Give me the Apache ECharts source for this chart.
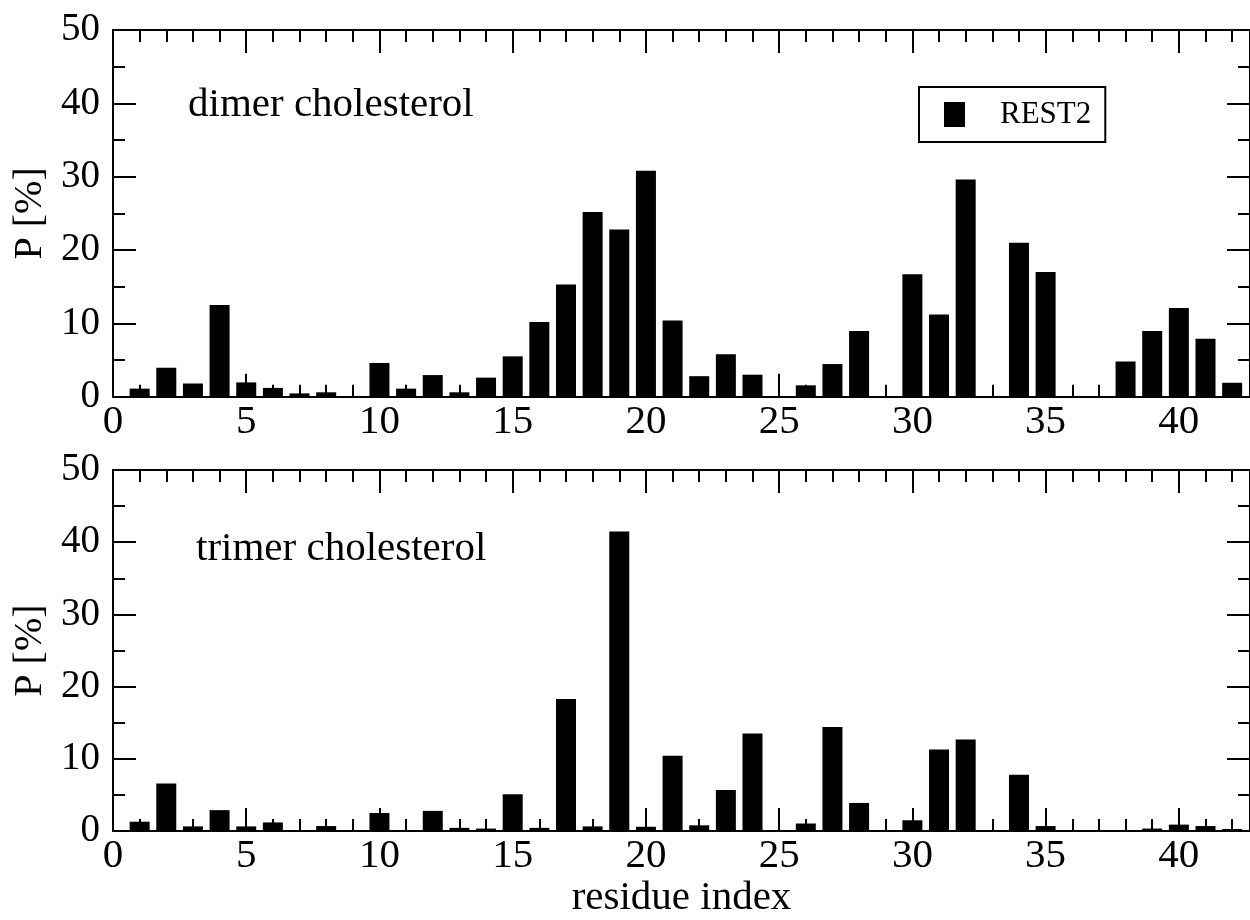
<!DOCTYPE html>
<html>
<head>
    <meta charset="UTF-8">
    <title>Residue contact probability</title>
    <script src="https://cdn.jsdelivr.net/npm/echarts@6/dist/echarts.min.js"></script>
    <style>
        html, body { margin: 0; padding: 0; background: #fff; }
        #chart { width: 1250px; height: 920px; }
    </style>
</head>
<body>
    <div id="chart"></div>
    <script>
        // residue index 1..42
        var residues = [1,2,3,4,5,6,7,8,9,10,11,12,13,14,15,16,17,18,19,20,21,
                        22,23,24,25,26,27,28,29,30,31,32,33,34,35,36,37,38,39,40,41,42];
        // P [%] dimer cholesterol
        var dimer = [1.1,3.95,1.8,12.5,1.95,1.2,0.45,0.6,0,4.6,
                     1.1,2.95,0.6,2.6,5.5,10.2,15.3,25.2,22.8,30.8,
                     10.4,2.8,5.8,3.0,0,1.55,4.45,8.95,0,16.7,
                     11.2,29.6,0,21.0,17.0,0,0,4.8,8.95,12.1,
                     7.9,1.9];
        // P [%] trimer cholesterol
        var trimer = [1.3,6.6,0.65,2.9,0.65,1.2,0,0.7,0,2.5,
                      0,2.8,0.45,0.35,5.1,0.45,18.3,0.65,41.5,0.6,
                      10.45,0.8,5.7,13.5,0,1.05,14.4,3.9,0,1.5,
                      11.3,12.7,0,7.8,0.7,0,0,0,0.35,0.9,
                      0.7,0.3];
        var panelLabels = ['dimer cholesterol', 'trimer cholesterol'];
        var yTicks = [0, 10, 20, 30, 40, 50];
        var xTickStep = 5;

        var F = 'Liberation Serif';
        var XMAX = 42.67;
        var line = { show: true, onZero: false, lineStyle: { color: '#000', width: 2 } };
        var noLine = { show: false, onZero: false };

        function pairs(vals) {
            return residues.map(function (r, i) { return [r, vals[i]]; });
        }

        function xAxes(gi, withName) {
            var main = {
                type: 'value', gridIndex: gi, position: 'bottom', min: 0, max: XMAX, interval: xTickStep,
                axisLine: line,
                axisTick: { inside: true, length: 23, lineStyle: { color: '#000', width: 2 } },
                axisLabel: { fontFamily: F, fontSize: 41, color: '#000', margin: 5, showMaxLabel: false },
                splitLine: { show: false }
            };
            if (withName) {
                main.name = 'residue index';
                main.nameLocation = 'middle';
                main.nameGap = 46;
                main.nameTextStyle = { fontFamily: F, fontSize: 41, color: '#000' };
            }
            var minor = {
                type: 'value', gridIndex: gi, position: 'bottom', min: 0, max: XMAX, interval: 1,
                axisLine: noLine,
                axisTick: { inside: true, length: 12, lineStyle: { color: '#000', width: 2 } },
                axisLabel: { show: false }, splitLine: { show: false }
            };
            var topMain = {
                type: 'value', gridIndex: gi, position: 'top', min: 0, max: XMAX, interval: xTickStep,
                axisLine: line,
                axisTick: { inside: true, length: 23, lineStyle: { color: '#000', width: 2 } },
                axisLabel: { show: false }, splitLine: { show: false }
            };
            var topMinor = {
                type: 'value', gridIndex: gi, position: 'top', min: 0, max: XMAX, interval: 1,
                axisLine: noLine,
                axisTick: { inside: true, length: 12, lineStyle: { color: '#000', width: 2 } },
                axisLabel: { show: false }, splitLine: { show: false }
            };
            return [main, minor, topMain, topMinor];
        }

        function yAxes(gi) {
            var ticks = {
                inside: true, length: 23, lineStyle: { color: '#000', width: 2 }
            };
            var minor = { show: true, splitNumber: 2, length: 12, lineStyle: { color: '#000', width: 2 } };
            return [{
                type: 'value', gridIndex: gi, position: 'left', min: yTicks[0], max: yTicks[yTicks.length - 1], interval: 10,
                axisLine: line, axisTick: ticks, minorTick: minor,
                axisLabel: { fontFamily: F, fontSize: 39, color: '#000', margin: 13 },
                splitLine: { show: false }, minorSplitLine: { show: false },
                name: 'P [%]', nameLocation: 'middle', nameGap: 62,
                nameTextStyle: { fontFamily: F, fontSize: 40, color: '#000' }
            }, {
                type: 'value', gridIndex: gi, position: 'right', min: yTicks[0], max: yTicks[yTicks.length - 1], interval: 10,
                axisLine: line, axisTick: ticks, minorTick: minor,
                axisLabel: { show: false }, splitLine: { show: false }
            }];
        }

        var chart = echarts.init(document.getElementById('chart'));
        chart.setOption({
            animation: false,
            backgroundColor: '#fff',
            grid: [
                { left: 113, top: 30, width: 1138, height: 366.7 },
                { left: 113, top: 470, width: 1138, height: 366.7 }
            ],
            xAxis: xAxes(0, false).concat(xAxes(1, true)),
            yAxis: yAxes(0).concat(yAxes(1)),
            legend: {
                left: 919, top: 87,
                data: [{ name: 'REST2', icon: 'rect' }],
                itemWidth: 21, itemHeight: 25,
                padding: [12, 14, 12, 25],
                borderColor: '#000', borderWidth: 2, borderRadius: 0,
                textStyle: { fontFamily: F, fontSize: 31, color: '#000', padding: [0, 0, 0, 30] },
                selectedMode: false
            },
            graphic: [
                { type: 'text', left: 188, top: 85, style: { text: panelLabels[0], font: '41px "Liberation Serif"', fill: '#000' } },
                { type: 'text', left: 196, top: 529, style: { text: panelLabels[1], font: '41px "Liberation Serif"', fill: '#000' } }
            ],
            series: [
                { name: 'REST2', type: 'bar', xAxisIndex: 0, yAxisIndex: 0, barWidth: 20,
                  itemStyle: { color: '#000' }, data: pairs(dimer) },
                { name: 'REST2', type: 'bar', xAxisIndex: 4, yAxisIndex: 2, barWidth: 20,
                  itemStyle: { color: '#000' }, data: pairs(trimer) }
            ]
        });
    </script>
</body>
</html>
